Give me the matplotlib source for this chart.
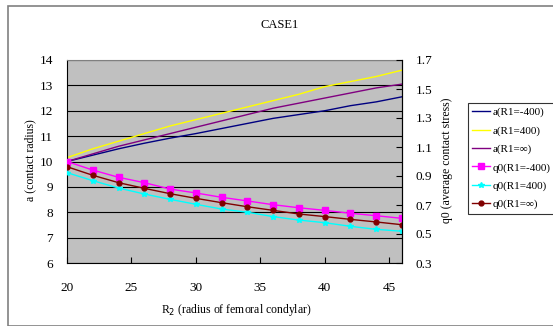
import matplotlib
matplotlib.use("Agg")
import matplotlib.pyplot as plt
from matplotlib.patches import Rectangle

plt.rcParams['font.family'] = ['Liberation Serif', 'DejaVu Serif']

# R2 values (mm)
r2 = [20, 22, 24, 26, 28, 30, 32, 34, 36, 38, 40, 42, 44, 46]

# contact radius a for each R1
a_m400 = [10.0, 10.25, 10.5, 10.72, 10.92, 11.1, 11.3, 11.5, 11.7, 11.85, 12.0, 12.2, 12.35, 12.55]
a_p400 = [10.15, 10.5, 10.8, 11.1, 11.4, 11.65, 11.9, 12.15, 12.4, 12.65, 12.95, 13.15, 13.35, 13.6]
a_inf = [10.0, 10.3, 10.6, 10.85, 11.1, 11.35, 11.6, 11.85, 12.1, 12.3, 12.5, 12.7, 12.9, 13.05]

# average contact stress q0 for each R1
q_m400 = [1.0, 0.941, 0.891, 0.854, 0.810, 0.783, 0.753, 0.728, 0.702, 0.681, 0.663, 0.643, 0.626, 0.608]
q_p400 = [0.923, 0.868, 0.817, 0.776, 0.739, 0.705, 0.672, 0.65, 0.62, 0.596, 0.578, 0.553, 0.532, 0.519]
q_inf = [0.964, 0.905, 0.854, 0.815, 0.778, 0.746, 0.716, 0.688, 0.663, 0.638, 0.62, 0.601, 0.583, 0.564]

left_ticks = [6, 7, 8, 9, 10, 11, 12, 13, 14]
right_ticks = [0.3, 0.5, 0.7, 0.9, 1.1, 1.3, 1.5, 1.7]
x_ticks = [20, 25, 30, 35, 40, 45]

W, H = 553, 326
fig = plt.figure(figsize=(W / 100, H / 100), dpi=100)
fig.patch.set_facecolor('white')

# chart area frame
fig.patches.append(Rectangle((8 / W, 0), 1, 1 - 6 / H, transform=fig.transFigure,
                             fill=False, edgecolor='#808080', linewidth=1.2))

ax = fig.add_axes([67 / W, 1 - 263 / H, (402 - 67) / W, (263 - 60) / H])
ax.set_facecolor('#C0C0C0')
ax2 = ax.twinx()

l1, = ax.plot(r2, a_m400, color='#000080', lw=1)
l2, = ax.plot(r2, a_p400, color='#FFFF00', lw=1)
l3, = ax.plot(r2, a_inf, color='#800080', lw=1)
l4, = ax2.plot(r2, q_m400, color='#FF00FF', lw=1, marker='s', ms=4, mec='#FF00FF')
l5, = ax2.plot(r2, q_p400, color='#00FFFF', lw=1, marker='*', ms=4, mec='#00FFFF')
l6, = ax2.plot(r2, q_inf, color='#800000', lw=1, marker='o', ms=3.5, mec='#800000')

ax.set_xlim(20, 46)
ax.set_ylim(6, 14)
ax2.set_ylim(0.3, 1.7)
ax.set_xticks(x_ticks)
ax.set_yticks(left_ticks)
ax2.set_yticks(right_ticks)
ax2.set_yticklabels([f"{v:.1f}" for v in right_ticks])

ax.grid(axis='y', color='black', linewidth=0.8)
ax.set_axisbelow(True)

for s in ax.spines.values():
    s.set_color('black')
    s.set_linewidth(0.8)
ax.spines['top'].set_color('#808080')
for s in ax2.spines.values():
    s.set_visible(False)
ax2.spines['right'].set_visible(True)
ax2.spines['right'].set_color('black')
ax2.spines['right'].set_linewidth(0.8)

ax.tick_params(axis='y', length=0, pad=10, labelsize=9.5)
ax.tick_params(axis='x', direction='in', length=4, pad=14, labelsize=9.5)
ax2.tick_params(axis='y', direction='in', length=4, pad=10, labelsize=9.5)

fig.text(280 / W, 1 - 25 / H, 'CASE1', ha='center', va='center', fontsize=9)
fig.text(30 / W, 1 - 160 / H, 'a (contact radius)', rotation=90,
         ha='center', va='center', fontsize=8.5)
fig.text(447 / W, 1 - 160 / H, 'q0 (average contact stress)', rotation=90,
         ha='center', va='center', fontsize=8.5)
fig.text(236 / W, 1 - 310 / H, r'R$_2$ (radius of femoral condylar)',
         ha='center', va='center', fontsize=8.5)

labels = ['a(R1=-400)', 'a(R1=400)', 'a(R1=\u221e)',
          'q0(R1=-400)', 'q0(R1=400)', 'q0(R1=\u221e)']
leg = fig.legend([l1, l2, l3, l4, l5, l6], labels, loc='upper left',
                 bbox_to_anchor=(468 / W, 1 - 103 / H), fontsize=8,
                 frameon=True, fancybox=False, edgecolor='black',
                 handlelength=1.6, handletextpad=0.2, labelspacing=0.75,
                 borderpad=0.4, borderaxespad=0)
leg.get_frame().set_linewidth(0.8)

fig.savefig('out.png', dpi=100)
